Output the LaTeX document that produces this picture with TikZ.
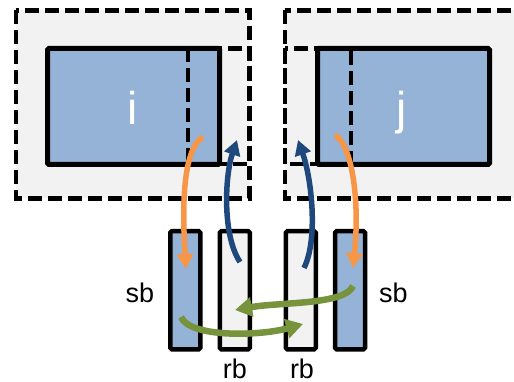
\documentclass[tikz,border=0pt]{standalone}
\usepackage{fontspec}
\setmainfont{Liberation Sans}
\usetikzlibrary{arrows.meta}
\definecolor{cellblue}{HTML}{95B3D7}
\definecolor{halo}{HTML}{F2F2F2}
\definecolor{sendorange}{HTML}{F79646}
\definecolor{recvblue}{HTML}{1F497D}
\definecolor{swapgreen}{HTML}{77933C}
\tikzset{
  region/.style={draw=black, line width=4.5pt, dash pattern=on 14pt off 6pt, fill=halo},
  ghost/.style={draw=black, line width=4.5pt, dash pattern=on 14pt off 6pt},
  cell/.style={draw=black, line width=5pt, fill=cellblue, rounded corners=1.5pt},
  bufbox/.style={draw=black, line width=4.5pt, rounded corners=1.5pt, minimum width=30pt, minimum height=118pt, inner sep=0pt},
  sendbuf/.style={bufbox, fill=cellblue},
  recvbuf/.style={bufbox, fill=halo},
  celllabel/.style={font=\fontsize{46}{50}\selectfont, text=white, anchor=base, inner sep=0pt},
  buflabel/.style={font=\fontsize{27}{30}\selectfont, anchor=base, inner sep=0pt},
  flow/.style={line width=5.5pt, -{Triangle[width=16pt,length=15pt]}},
  swap/.style={line width=6.5pt, -{Triangle[width=19pt,length=17pt]}, draw=swapgreen}
}
\begin{document}
\begin{tikzpicture}[x=1pt,y=-1pt]
\useasboundingbox (0,0) rectangle (514,382);
\clip (0,0) rectangle (514,382);

% halo regions around the two subdomains
\draw[region] (16,10.5) rectangle (249.5,198.5);
\draw[region] (285,10.5) rectangle (540,198.5);

% subdomains
\draw[cell] (47.5,48.5) rectangle (219.5,164.5);
\draw[cell] (317.5,48.5) rectangle (489.5,164.5);
\node[celllabel] (ci) at (133,125) {i};
\node[celllabel] (cj) at (402,125) {j};

% ghost strips exchanged with the neighbour
\draw[ghost] (188,48.5) rectangle (249.5,164);
\draw[ghost] (285,48.5) rectangle (351,164);

% send / receive buffers
\node[sendbuf] (sbi) at (185.25,290.25) {};
\node[recvbuf] (rbi) at (234.75,290.25) {};
\node[recvbuf] (rbj) at (300.75,290.25) {};
\node[sendbuf] (sbj) at (350,290.25) {};

\node[buflabel] (lsbi) at (140,302) {sb};
\node[buflabel] (lsbj) at (393.5,302) {sb};
\node[buflabel] (lrbi) at (235,378.5) {rb};
\node[buflabel] (lrbj) at (302,378.5) {rb};

% arrow end points
\coordinate (oi0) at (203,137);
\coordinate (oi1) at (186,269);
\coordinate (bi0) at (240,262);
\coordinate (bi1) at (237,140);
\coordinate (bj0) at (304,268);
\coordinate (bj1) at (298,140);
\coordinate (oj0) at (335,135);
\coordinate (oj1) at (353,268);
\coordinate (gi0) at (181,317);
\coordinate (gi1) at (303,324);
\coordinate (gj0) at (353,286);
\coordinate (gj1) at (235,310);

% packing into send buffers
\draw[flow, draw=sendorange] (oi0) .. controls (186,147) and (181,190) .. (oi1);
\draw[flow, draw=sendorange] (oj0) .. controls (352,145) and (360,200) .. (oj1);

% unpacking from receive buffers
\draw[flow, draw=recvblue] (bi0) .. controls (222,235) and (225,175) .. (bi1);
\draw[flow, draw=recvblue] (bj0) .. controls (318,240) and (312,180) .. (bj1);

% buffer exchange
\draw[swap] (gi0) .. controls (190,338) and (260,336) .. (gi1);
\draw[swap] (gj0) .. controls (345,305) and (280,302) .. (gj1);
\end{tikzpicture}
\end{document}
